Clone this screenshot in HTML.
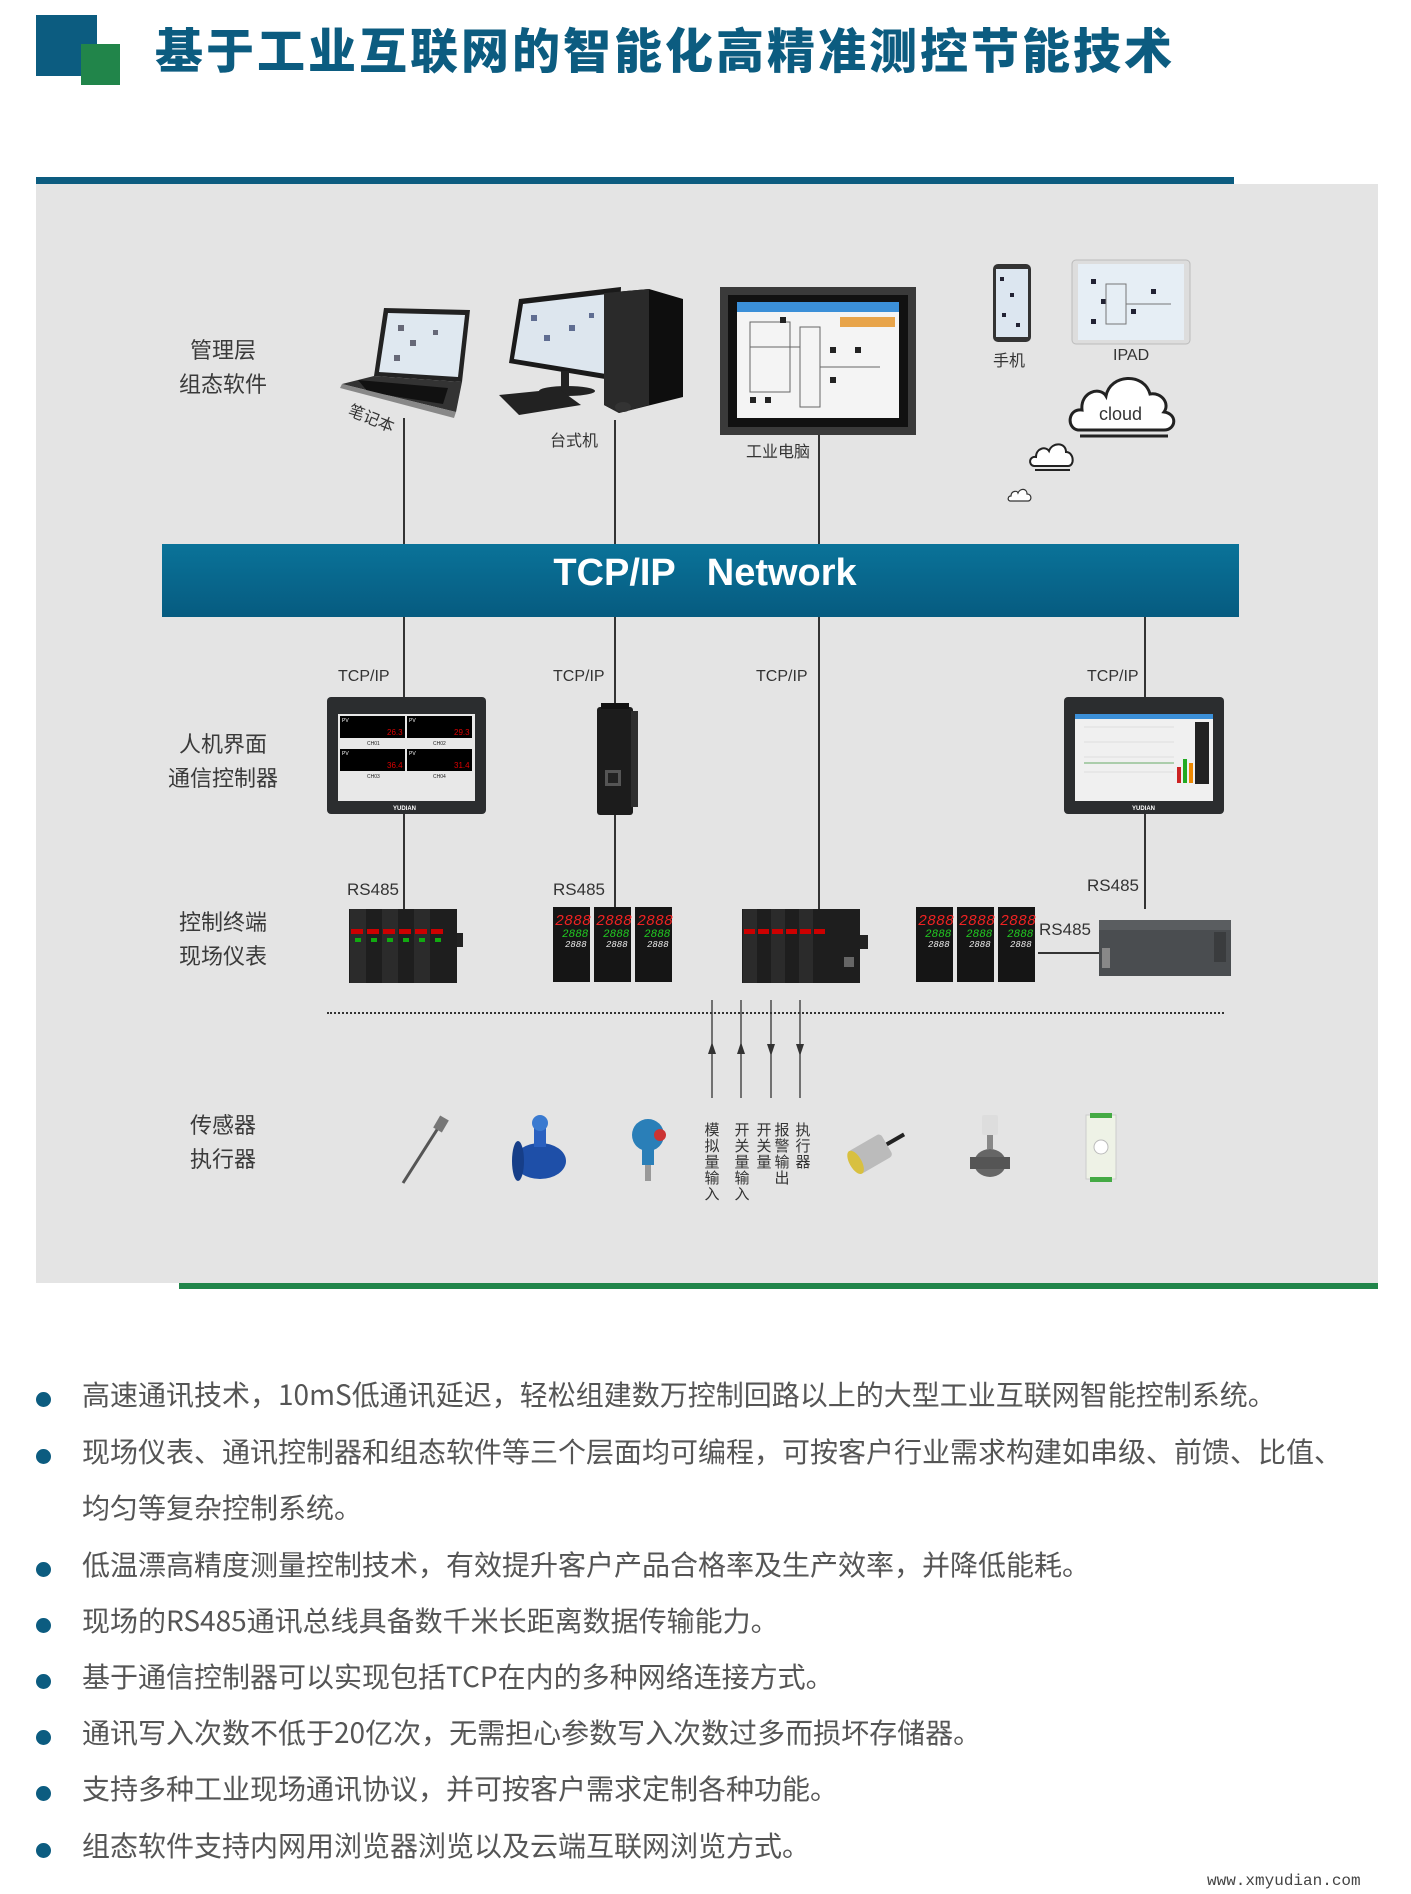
<!DOCTYPE html>
<html><head><meta charset="utf-8">
<style>
*{margin:0;padding:0;box-sizing:border-box}
body{width:1411px;height:1894px;background:#fff;position:relative;overflow:hidden;font-family:"Liberation Sans","Noto Sans CJK SC",sans-serif}
.a{position:absolute}
.title{left:155px;top:12px;font-size:48px;font-weight:900;color:#0c5c80;letter-spacing:3px;white-space:nowrap;font-family:"Noto Sans CJK SC",sans-serif}
.lbl{position:absolute;font-size:22px;color:#3a3a3a;text-align:center;line-height:34px;width:140px;font-family:"Noto Sans CJK SC",sans-serif}
.sm{position:absolute;font-size:16px;color:#333;white-space:nowrap;font-family:"Liberation Sans","Noto Sans CJK SC",sans-serif}
.vl{position:absolute;width:1.5px;background:#333}
.bul{position:absolute;left:36px;width:15px;height:15px;border-radius:50%;background:#0c5c80}
.bt{position:absolute;left:82px;font-size:28px;color:#555;white-space:nowrap;font-family:"Noto Sans CJK SC",sans-serif}
.vt{position:absolute;font-size:15px;color:#333;width:16px;line-height:16px;text-align:center;font-family:"Noto Sans CJK SC",sans-serif}
</style></head><body>
<div class="a" style="left:36px;top:15px;width:61px;height:61px;background:#0c5c80"></div>
<div class="a" style="left:81px;top:44px;width:39px;height:41px;background:#21854a"></div>
<div class="a title">基于工业互联网的智能化高精准测控节能技术</div>

<div class="a" style="left:36px;top:177px;width:1198px;height:7px;background:#0c5c80"></div>
<div class="a" style="left:36px;top:184px;width:1342px;height:1099px;background:#e4e4e4"></div>
<div class="a" style="left:179px;top:1283px;width:1199px;height:6px;background:#21854a"></div>

<div class="vl" style="left:403px;top:418px;height:491px"></div>
<div class="vl" style="left:614px;top:420px;height:489px"></div>
<div class="vl" style="left:818px;top:434px;height:475px"></div>
<div class="vl" style="left:1144px;top:617px;height:292px"></div>

<div class="a" style="left:162px;top:544px;width:1077px;height:73px;background:linear-gradient(#0a7399,#065b80)"></div>
<div class="a" style="left:162px;top:552px;width:1086px;text-align:center;font-size:38px;font-weight:bold;color:#fff;white-space:pre">TCP/IP   Network</div>

<div class="lbl" style="left:153px;top:332px">管理层<br>组态软件</div>
<div class="lbl" style="left:153px;top:726px">人机界面<br>通信控制器</div>
<div class="lbl" style="left:153px;top:904px">控制终端<br>现场仪表</div>
<div class="lbl" style="left:153px;top:1107px">传感器<br>执行器</div>

<svg class="a" style="left:338px;top:300px" width="136" height="122" viewBox="0 0 136 122">
<polygon points="46,8 132,10 124,82 36,76" fill="#222"/>
<polygon points="50,13 127,15 120,77 41,72" fill="#dfe8f0"/>
<g fill="#334" opacity=".7"><rect x="60" y="25" width="6" height="6"/><rect x="72" y="40" width="6" height="6"/><rect x="56" y="55" width="6" height="6"/><rect x="95" y="30" width="5" height="5"/></g>
<polygon points="36,76 124,82 118,112 4,84" fill="#333"/>
<polygon points="20,80 110,88 105,104 30,92" fill="#111"/>
<polygon points="4,84 118,112 116,118 2,88" fill="#888"/>
</svg>
<div class="sm" style="left:348px;top:405px;transform:rotate(22deg)">笔记本</div>

<svg class="a" style="left:499px;top:285px" width="184" height="132" viewBox="0 0 184 132">
<polygon points="20,14 122,2 118,96 10,78" fill="#1a1a1a"/>
<polygon points="24,19 117,8 113,90 15,74" fill="#dde6ee"/>
<g fill="#2a3a6a" opacity=".7"><rect x="32" y="30" width="6" height="6"/><rect x="45" y="50" width="6" height="6"/><rect x="70" y="40" width="6" height="6"/><rect x="90" y="28" width="5" height="5"/></g>
<rect x="62" y="86" width="8" height="18" fill="#222"/>
<ellipse cx="68" cy="106" rx="28" ry="5" fill="#222"/>
<polygon points="0,110 60,104 82,120 20,130" fill="#222"/>
<polygon points="105,8 150,4 184,14 184,112 120,128 105,120" fill="#0e0e0e"/>
<polygon points="105,8 150,4 150,120 120,128 105,120" fill="#2a2a2a"/>
<ellipse cx="124" cy="122" rx="8" ry="5" fill="#333"/>
</svg>
<div class="sm" style="left:550px;top:427px">台式机</div>

<svg class="a" style="left:720px;top:287px" width="196" height="148" viewBox="0 0 196 148">
<rect width="196" height="148" fill="#3a3a3a"/>
<rect x="8" y="8" width="180" height="132" fill="#111"/>
<rect x="17" y="15" width="162" height="116" fill="#f4f4f4"/>
<rect x="17" y="15" width="162" height="10" fill="#3b8fd8"/>
<rect x="120" y="30" width="55" height="10" fill="#e8a44a"/>
<g fill="none" stroke="#666" stroke-width="1"><rect x="30" y="35" width="40" height="70"/><rect x="80" y="40" width="20" height="80"/><line x1="100" y1="80" x2="160" y2="80"/><line x1="30" y1="60" x2="80" y2="60"/></g>
<g fill="#222"><rect x="60" y="30" width="6" height="6"/><rect x="110" y="60" width="6" height="6"/><rect x="110" y="90" width="6" height="6"/><rect x="135" y="60" width="6" height="6"/><rect x="30" y="110" width="6" height="6"/><rect x="45" y="110" width="6" height="6"/></g>
</svg>
<div class="sm" style="left:746px;top:438px">工业电脑</div>

<svg class="a" style="left:992px;top:263px" width="40" height="80" viewBox="0 0 40 80">
<rect x="1" y="1" width="38" height="78" rx="5" fill="#333"/>
<rect x="4" y="6" width="32" height="68" fill="#dce6f0"/>
<g fill="#223"><rect x="8" y="14" width="4" height="4"/><rect x="18" y="30" width="4" height="4"/><rect x="10" y="50" width="4" height="4"/><rect x="24" y="60" width="4" height="4"/></g>
</svg>
<svg class="a" style="left:1071px;top:259px" width="120" height="86" viewBox="0 0 120 86">
<rect x="1" y="1" width="118" height="84" rx="4" fill="#ddd" stroke="#bbb"/>
<rect x="7" y="5" width="106" height="76" fill="#e6eef5"/>
<g fill="#223"><rect x="20" y="20" width="5" height="5"/><rect x="30" y="40" width="5" height="5"/><rect x="20" y="60" width="5" height="5"/><rect x="60" y="50" width="5" height="5"/><rect x="80" y="30" width="5" height="5"/></g>
<g stroke="#777" fill="none"><rect x="35" y="25" width="20" height="40"/><line x1="55" y1="45" x2="100" y2="45"/></g>
</svg>
<div class="sm" style="left:993px;top:347px">手机</div>
<div class="sm" style="left:1113px;top:347px">IPAD</div>

<svg class="a" style="left:1066px;top:370px" width="116" height="70" viewBox="0 0 116 70">
<path d="M12,60 C0,58 2,38 16,40 C14,22 34,16 40,26 C44,4 78,2 84,24 C96,22 104,34 98,42 C112,44 110,60 98,60 Z" fill="#fff" stroke="#222" stroke-width="3"/>
<path d="M14,66 L102,66" stroke="#222" stroke-width="3"/>
<text x="33" y="50" font-size="18" fill="#333" font-family="Liberation Sans">cloud</text>
</svg>
<svg class="a" style="left:1028px;top:440px" width="48" height="32" viewBox="0 0 48 32">
<path d="M6,26 C0,25 1,16 8,17 C8,8 18,6 21,11 C24,2 38,2 38,12 C46,12 47,26 40,26 Z" fill="#fff" stroke="#222" stroke-width="2"/>
<path d="M7,30 L42,30" stroke="#222" stroke-width="2"/>
</svg>
<svg class="a" style="left:1007px;top:487px" width="26" height="18" viewBox="0 0 26 18">
<path d="M3,14 C0,13 1,9 4,9 C4,4 10,3 11,6 C13,1 20,1 20,7 C25,7 25,14 21,14 Z" fill="#fff" stroke="#333" stroke-width="1.2"/>
</svg>

<div class="sm" style="left:338px;top:668px">TCP/IP</div>
<div class="sm" style="left:553px;top:668px">TCP/IP</div>
<div class="sm" style="left:756px;top:668px">TCP/IP</div>
<div class="sm" style="left:1087px;top:668px">TCP/IP</div>

<svg class="a" style="left:327px;top:697px" width="159" height="117" viewBox="0 0 159 117">
<rect width="159" height="117" rx="4" fill="#2b2d2f"/>
<rect x="11" y="17" width="137" height="87" fill="#e8e8e8"/>
<rect x="13" y="19" width="65" height="22" fill="#000"/><rect x="80" y="19" width="65" height="22" fill="#000"/>
<rect x="13" y="52" width="65" height="22" fill="#000"/><rect x="80" y="52" width="65" height="22" fill="#000"/>
<g fill="#d00" font-size="8" font-family="Liberation Sans"><text x="60" y="38">26.3</text><text x="127" y="38">29.3</text><text x="60" y="71">36.4</text><text x="127" y="71">31.4</text></g>
<g fill="#fff" font-size="5" font-family="Liberation Sans"><text x="15" y="25">PV</text><text x="82" y="25">PV</text><text x="15" y="58">PV</text><text x="82" y="58">PV</text></g>
<g fill="#222" font-size="5" font-family="Liberation Sans"><text x="40" y="48">CH01</text><text x="106" y="48">CH02</text><text x="40" y="81">CH03</text><text x="106" y="81">CH04</text></g>
<text x="66" y="113" fill="#fff" font-size="6" font-family="Liberation Sans" font-weight="bold">YUDIAN</text>
</svg>
<svg class="a" style="left:593px;top:703px" width="46" height="116" viewBox="0 0 46 116">
<rect x="4" y="4" width="36" height="108" rx="3" fill="#1c1c1c"/>
<rect x="38" y="8" width="7" height="96" fill="#2e2e2e"/>
<rect x="8" y="0" width="28" height="6" fill="#111"/>
<rect x="12" y="67" width="16" height="16" fill="#555"/><rect x="15" y="70" width="10" height="10" fill="#222"/>
</svg>
<svg class="a" style="left:1064px;top:697px" width="160" height="117" viewBox="0 0 160 117">
<rect width="160" height="117" rx="4" fill="#2b2d2f"/>
<rect x="11" y="17" width="138" height="87" fill="#f0f0f0"/>
<rect x="11" y="17" width="138" height="5" fill="#3b8fd8"/>
<g stroke="#ccc" stroke-width=".5"><line x1="20" y1="30" x2="110" y2="30"/><line x1="20" y1="45" x2="110" y2="45"/><line x1="20" y1="60" x2="110" y2="60"/><line x1="20" y1="75" x2="110" y2="75"/></g>
<line x1="20" y1="66" x2="110" y2="66" stroke="#6a6" stroke-width="1"/>
<rect x="113" y="70" width="4" height="16" fill="#c22"/><rect x="119" y="62" width="4" height="24" fill="#2a2"/><rect x="125" y="66" width="4" height="20" fill="#e80"/>
<rect x="131" y="25" width="14" height="62" fill="#222"/>
<text x="68" y="113" fill="#fff" font-size="6" font-family="Liberation Sans" font-weight="bold">YUDIAN</text>
</svg>

<div class="sm" style="left:347px;top:880px;font-size:17px">RS485</div>
<div class="sm" style="left:553px;top:880px;font-size:17px">RS485</div>
<div class="sm" style="left:1087px;top:876px;font-size:17px">RS485</div>
<div class="sm" style="left:1039px;top:920px;font-size:17px">RS485</div>

<svg class="a" style="left:349px;top:907px" width="114" height="78" viewBox="0 0 114 78">
<rect x="0" y="2" width="108" height="74" fill="#1e1e1e"/>
<g fill="#2b2b2b"><rect x="1" y="2" width="16" height="74"/><rect x="33" y="2" width="16" height="74"/><rect x="65" y="2" width="16" height="74"/></g>
<g fill="#c00"><rect x="2" y="22" width="12" height="5"/><rect x="18" y="22" width="12" height="5"/><rect x="34" y="22" width="12" height="5"/><rect x="50" y="22" width="12" height="5"/><rect x="66" y="22" width="12" height="5"/><rect x="82" y="22" width="12" height="5"/></g>
<g fill="#1a1"><rect x="6" y="31" width="6" height="4"/><rect x="22" y="31" width="6" height="4"/><rect x="38" y="31" width="6" height="4"/><rect x="54" y="31" width="6" height="4"/><rect x="70" y="31" width="6" height="4"/><rect x="86" y="31" width="6" height="4"/></g>
<rect x="108" y="26" width="6" height="14" fill="#222"/>
</svg>
<svg class="a" style="left:553px;top:907px" width="120" height="75" viewBox="0 0 120 75">
<g id="m"><rect x="0" y="0" width="37" height="75" fill="#151515"/><text x="2" y="18" fill="#e22" font-size="15" font-family="Liberation Mono" font-style="italic">2888</text><text x="9" y="30" fill="#2c2" font-size="11" font-family="Liberation Mono" font-style="italic">2888</text><text x="12" y="40" fill="#eee" font-size="9" font-family="Liberation Mono" font-style="italic">2888</text></g>
<use href="#m" x="41"/><use href="#m" x="82"/>
</svg>
<svg class="a" style="left:742px;top:907px" width="126" height="78" viewBox="0 0 126 78">
<rect x="0" y="2" width="118" height="74" fill="#1e1e1e"/>
<g fill="#2b2b2b"><rect x="1" y="2" width="14" height="74"/><rect x="29" y="2" width="14" height="74"/><rect x="57" y="2" width="14" height="74"/></g>
<g fill="#c00"><rect x="2" y="22" width="11" height="5"/><rect x="16" y="22" width="11" height="5"/><rect x="30" y="22" width="11" height="5"/><rect x="44" y="22" width="11" height="5"/><rect x="58" y="22" width="11" height="5"/><rect x="72" y="22" width="11" height="5"/></g>
<rect x="102" y="50" width="10" height="10" fill="#666"/>
<rect x="118" y="28" width="8" height="14" fill="#222"/>
</svg>
<svg class="a" style="left:916px;top:907px" width="122" height="75" viewBox="0 0 122 75">
<use href="#m" x="0"/><use href="#m" x="41"/><use href="#m" x="82"/>
</svg>
<div class="a" style="left:1038px;top:952px;width:62px;height:1.5px;background:#333"></div>
<svg class="a" style="left:1099px;top:912px" width="132" height="66" viewBox="0 0 132 66">
<rect x="0" y="8" width="132" height="56" fill="#4a4d50"/>
<rect x="0" y="8" width="132" height="10" fill="#5a5d60"/>
<rect x="3" y="36" width="8" height="20" fill="#888"/>
<rect x="115" y="20" width="12" height="30" fill="#3a3c3e"/>
</svg>

<div class="a" style="left:327px;top:1012px;width:897px;border-top:2px dotted #333"></div>

<svg class="a" style="left:700px;top:998px" width="112" height="102" viewBox="0 0 112 102">
<g stroke="#333" stroke-width="1.3"><line x1="12" y1="2" x2="12" y2="100"/><line x1="41" y1="2" x2="41" y2="100"/><line x1="71" y1="2" x2="71" y2="100"/><line x1="100" y1="2" x2="100" y2="100"/></g>
<g fill="#333"><polygon points="12,44 8,56 16,56"/><polygon points="41,44 37,56 45,56"/><polygon points="71,58 67,46 75,46"/><polygon points="100,58 96,46 104,46"/></g>
</svg>
<div class="vt" style="left:704px;top:1122px">模<br>拟<br>量<br>输<br>入</div>
<div class="vt" style="left:734px;top:1122px">开<br>关<br>量<br>输<br>入</div>
<div class="vt" style="left:756px;top:1122px">开<br>关<br>量</div>
<div class="vt" style="left:774px;top:1122px">报<br>警<br>输<br>出</div>
<div class="vt" style="left:795px;top:1122px">执<br>行<br>器</div>

<svg class="a" style="left:398px;top:1113px" width="60" height="72" viewBox="0 0 60 72">
<line x1="5" y1="70" x2="42" y2="12" stroke="#555" stroke-width="3"/>
<rect x="38" y="4" width="10" height="14" fill="#777" transform="rotate(30 43 11)"/>
</svg>
<svg class="a" style="left:510px;top:1113px" width="60" height="72" viewBox="0 0 60 72">
<ellipse cx="30" cy="48" rx="26" ry="18" fill="#1e4fa8"/>
<rect x="24" y="8" width="12" height="26" fill="#2a60c0"/>
<circle cx="30" cy="10" r="8" fill="#3a7ad0"/>
<ellipse cx="8" cy="48" rx="6" ry="20" fill="#163e88"/>
</svg>
<svg class="a" style="left:622px;top:1113px" width="52" height="72" viewBox="0 0 52 72">
<circle cx="26" cy="22" r="16" fill="#2a7fb8"/>
<rect x="20" y="36" width="12" height="16" fill="#2a7fb8"/>
<rect x="23" y="52" width="6" height="16" fill="#999"/>
<circle cx="38" cy="22" r="6" fill="#c33"/>
</svg>
<svg class="a" style="left:840px;top:1120px" width="70" height="60" viewBox="0 0 70 60">
<g transform="rotate(-30 35 30)"><rect x="10" y="18" width="38" height="26" rx="4" fill="#bbb"/><ellipse cx="12" cy="31" rx="6" ry="13" fill="#d8c040"/><line x1="48" y1="31" x2="68" y2="31" stroke="#222" stroke-width="4"/></g>
</svg>
<svg class="a" style="left:968px;top:1113px" width="46" height="72" viewBox="0 0 46 72">
<rect x="14" y="2" width="16" height="20" rx="2" fill="#ddd"/>
<rect x="19" y="22" width="6" height="14" fill="#888"/>
<ellipse cx="22" cy="50" rx="16" ry="14" fill="#666"/>
<rect x="2" y="44" width="40" height="12" fill="#555"/>
</svg>
<svg class="a" style="left:1080px;top:1113px" width="42" height="70" viewBox="0 0 42 70">
<rect x="6" y="2" width="30" height="64" fill="#eef2e6" stroke="#ccc"/>
<rect x="10" y="0" width="22" height="5" fill="#4a4"/>
<rect x="10" y="64" width="22" height="5" fill="#4a4"/>
<circle cx="21" cy="34" r="7" fill="#fff" stroke="#bbb"/>
</svg>

<div class="bul" style="top:1392px"></div><div class="bt" style="top:1374px">高速通讯技术，10mS低通讯延迟，轻松组建数万控制回路以上的大型工业互联网智能控制系统。</div>
<div class="bul" style="top:1449px"></div><div class="bt" style="top:1431px">现场仪表、通讯控制器和组态软件等三个层面均可编程，可按客户行业需求构建如串级、前馈、比值、</div>
<div class="bt" style="top:1487px">均匀等复杂控制系统。</div>
<div class="bul" style="top:1562px"></div><div class="bt" style="top:1544px">低温漂高精度测量控制技术，有效提升客户产品合格率及生产效率，并降低能耗。</div>
<div class="bul" style="top:1618px"></div><div class="bt" style="top:1600px">现场的RS485通讯总线具备数千米长距离数据传输能力。</div>
<div class="bul" style="top:1674px"></div><div class="bt" style="top:1656px">基于通信控制器可以实现包括TCP在内的多种网络连接方式。</div>
<div class="bul" style="top:1730px"></div><div class="bt" style="top:1712px">通讯写入次数不低于20亿次，无需担心参数写入次数过多而损坏存储器。</div>
<div class="bul" style="top:1786px"></div><div class="bt" style="top:1768px">支持多种工业现场通讯协议，并可按客户需求定制各种功能。</div>
<div class="bul" style="top:1843px"></div><div class="bt" style="top:1825px">组态软件支持内网用浏览器浏览以及云端互联网浏览方式。</div>

<div class="a" style="left:1207px;top:1872px;font-family:'Liberation Mono',monospace;font-size:16px;color:#444">www.xmyudian.com</div>
</body></html>
